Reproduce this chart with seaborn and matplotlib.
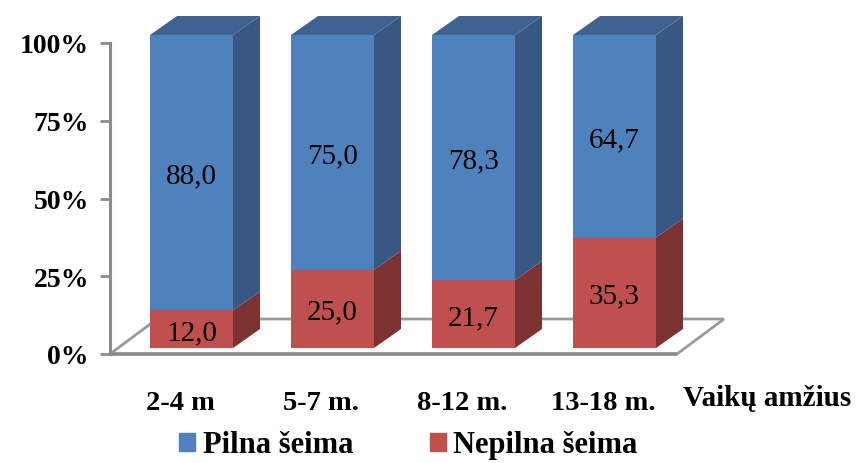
import matplotlib
matplotlib.use("Agg")
import matplotlib.pyplot as plt
import pandas as pd
import seaborn as sns
from matplotlib.patches import Polygon, Patch

# ---- data ----
categories = ["2-4 m", "5-7 m.", "8-12 m.", "13-18 m."]
pilna = [88.0, 75.0, 78.3, 64.7]
nepilna = [12.0, 25.0, 21.7, 35.3]
series_names = ["Pilna šeima", "Nepilna šeima"]
y_ticks = [0, 25, 50, 75, 100]
y_tick_labels = ["0%", "25%", "50%", "75%", "100%"]
axis_title = "Vaikų amžius"

# ---- colours ----
BLUE, BLUE_SIDE, BLUE_TOP = "#4F81BD", "#385782", "#3E6292"
RED, RED_SIDE = "#C0504D", "#7D3231"
LINE_GRAY = "#8C8C8C"

sns.set_style("white")
plt.rcParams["font.family"] = ["Liberation Serif", "DejaVu Serif"]
plt.rcParams["text.color"] = "black"

W, H = 857, 464
fig = plt.figure(figsize=(W / 100, H / 100), dpi=100)

# plotting box in pixels (from top-left)
L, R, T, B = 110, 760, 8, 362
ax = fig.add_axes([L / W, 1 - B / H, (R - L) / W, (B - T) / H])

# geometry of the pseudo-3D scene (pixels)
cx0, step = 191.5, 141.0          # first bar centre, spacing
bar_w = 83 / step                  # front face width in category units
bar_y0, bar_k = 349.0, 3.13        # bar base and px per percent
axis_y0, axis_k = 355.0, 3.11      # wall axis base and px per percent
depth_dx, depth_dy = 27 / step, 19 / bar_k
floor_dx, floor_dy = 47 / step, 35 / axis_k
floor_left, floor_right = (L - cx0) / step, (677 - cx0) / step

df = pd.DataFrame({"age": categories, "pilna": pilna, "nepilna": nepilna})
df["total"] = df["pilna"] + df["nepilna"]

# front faces: full stack in blue, lower segment in red on top of it
sns.barplot(data=df, x="age", y="total", color=BLUE, saturation=1,
            width=bar_w, linewidth=0, errorbar=None, ax=ax)
sns.barplot(data=df, x="age", y="nepilna", color=RED, saturation=1,
            width=bar_w, linewidth=0, errorbar=None, ax=ax)
for p in ax.patches:
    p.set_zorder(3)

# side and top faces
for i, (n, p) in enumerate(zip(nepilna, pilna)):
    xr = i + bar_w / 2
    for y0, y1, col in [(0, n, RED_SIDE), (n, n + p, BLUE_SIDE)]:
        ax.add_patch(Polygon([(xr, y0), (xr + depth_dx, y0 + depth_dy),
                              (xr + depth_dx, y1 + depth_dy), (xr, y1)],
                             closed=True, facecolor=col, edgecolor="none",
                             zorder=2))
    top = n + p
    xl = i - bar_w / 2
    ax.add_patch(Polygon([(xl, top), (xr, top), (xr + depth_dx, top + depth_dy),
                          (xl + depth_dx, top + depth_dy)],
                         closed=True, facecolor=BLUE_TOP, edgecolor="none",
                         zorder=2))
    # value labels on the front faces
    ax.text(i, n / 2, f"{n:.1f}".replace(".", ","), ha="center",
            va="center_baseline", fontsize=21, color="black", zorder=5)
    ax.text(i, n + p / 2, f"{p:.1f}".replace(".", ","), ha="center",
            va="center_baseline", fontsize=21, color="black", zorder=5)

ax.set_xlim((L - cx0) / step, (R - cx0) / step)
ax.set_ylim((bar_y0 - B) / bar_k, (bar_y0 - T) / bar_k)
ax.set_xlabel("")
ax.set_ylabel("")
ax.set_yticks([])
ax.set_xticks([i - 0.08 for i in range(len(categories))])
ax.set_xticklabels(categories, fontsize=20.5, fontweight="bold")
ax.tick_params(axis="x", length=0, pad=21, labelcolor="black")
for s in ax.spines.values():
    s.set_visible(False)

# wall axis with percentage ticks
ax2 = ax.twinx()
ax2.set_ylim((axis_y0 - B) / axis_k, (axis_y0 - T) / axis_k)
ax2.yaxis.tick_left()
ax2.set_yticks(y_ticks)
ax2.set_yticklabels(y_tick_labels, fontsize=20, fontweight="bold")
ax2.tick_params(axis="y", length=7.2, width=2, color=LINE_GRAY, pad=8,
                labelcolor="black")
for k, s in ax2.spines.items():
    s.set_visible(k == "left")
ax2.spines["left"].set_color(LINE_GRAY)
ax2.spines["left"].set_linewidth(2.2)
ax2.spines["left"].set_bounds(0, 100)

# floor plane (drawn under the bars, in wall-axis coordinates)
floor = Polygon([(floor_left, 0), (floor_right, 0),
                 (floor_right + floor_dx, floor_dy),
                 (floor_left + floor_dx, floor_dy)],
                closed=True, facecolor="white", edgecolor="#9A9A9A",
                linewidth=2, zorder=1, transform=ax2.transData,
                clip_on=False)
ax.add_patch(floor)
ax2.plot([floor_left, floor_right], [0, 0], color=LINE_GRAY, lw=2.6,
         solid_capstyle="butt", clip_on=False)

fig.text(683 / W, 1 - 406 / H, axis_title, fontsize=21, fontweight="bold",
         ha="left", va="baseline")

fig.legend(handles=[Patch(color=BLUE), Patch(color=RED)], labels=series_names,
           loc="center", bbox_to_anchor=(408.5 / W, 1 - 446 / H), ncol=2,
           frameon=False, prop={"weight": "bold", "size": 22},
           handlelength=0.52, handleheight=0.52, handletextpad=0.25,
           columnspacing=2.5, borderpad=0)

fig.savefig("out.png", dpi=100)
